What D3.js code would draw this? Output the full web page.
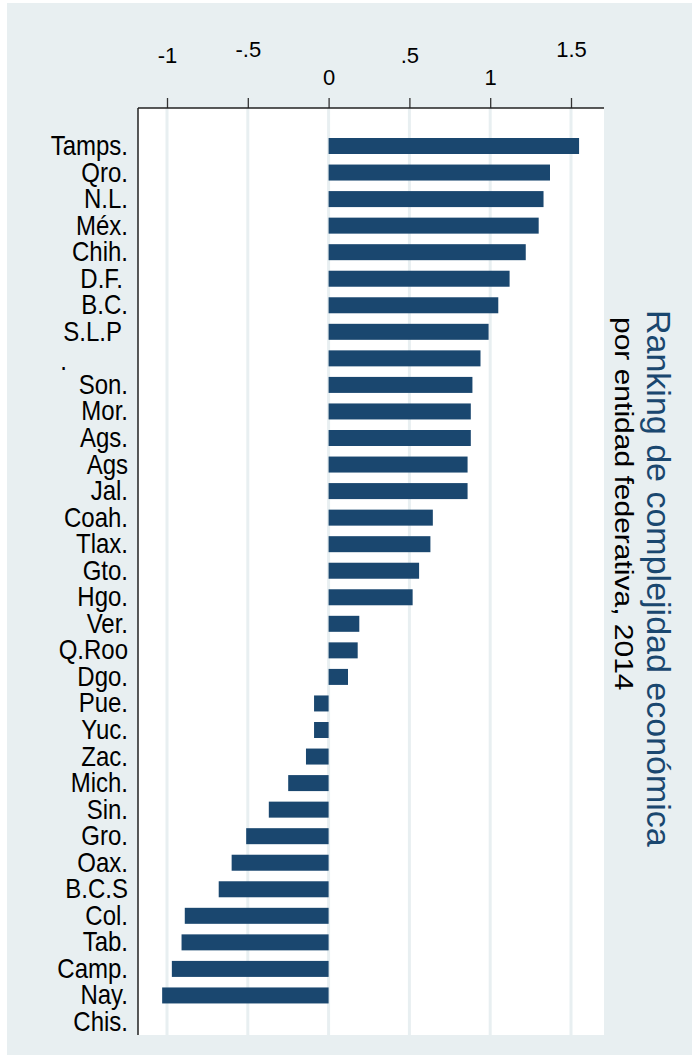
<!DOCTYPE html>
<html>
<head>
<meta charset="utf-8">
<script src="https://cdn.jsdelivr.net/npm/d3@7"></script>
<style>
  body { margin: 0; background: #fff; }
  text { font-family: "Liberation Sans", Arial, sans-serif; }
</style>
</head>
<body>
<script>
// data (ranking order, top to bottom)
var states = ["Tamps.", "Qro.", "N.L.", "Méx.", "Chih.", "D.F.", "B.C.", "S.L.P", ".",
    "Son.", "Mor.", "Ags.", "Ags", "Jal.", "Coah.", "Tlax.", "Gto.", "Hgo.", "Ver.",
    "Q.Roo", "Dgo.", "Pue.", "Yuc.", "Zac.", "Mich.", "Sin.", "Gro.", "Oax.", "B.C.S",
    "Col.", "Tab.", "Camp.", "Nay.", "Chis."];
var values = [1.55, 1.37, 1.33, 1.30, 1.22, 1.12, 1.05, 0.99, 0.94,
    0.89, 0.88, 0.88, 0.86, 0.86, 0.645, 0.63, 0.56, 0.52, 0.19,
    0.18, 0.12, -0.09, -0.09, -0.14, -0.25, -0.37, -0.51, -0.60, -0.68,
    -0.89, -0.91, -0.97, -1.03, null];
var tickValues = [-1, -0.5, 0, 0.5, 1, 1.5];
var tickLabels = ["-1", "-.5", "0", ".5", "1", "1.5"];
var title = "Ranking de complejidad económica";
var subtitle = "por entidad federativa, 2014";

var svgWidth = 692;
var svgHeight = 1058;
var plot = {left: 138, right: 604, top: 108, bottom: 1035};
var navy = "#1a476f";
var bg = "#e8eff1";

// staggered tick labels (baseline offset from axis line)
var tickLabelDy = [-45, -51, -23, -45, -23, -51];

var svg = d3.select("body")
    .append("svg")
    .attr("width", svgWidth)
    .attr("height", svgHeight);

svg.append("rect")
    .attr("x", 7).attr("y", 3)
    .attr("width", svgWidth - 7).attr("height", 1052)
    .attr("fill", bg);

svg.append("rect")
    .attr("x", plot.left).attr("y", plot.top)
    .attr("width", plot.right - plot.left).attr("height", plot.bottom - plot.top)
    .attr("fill", "#fff");

var xScale = d3.scaleLinear()
    .domain([-1, 1.5])
    .range([167, 571]);

var yScale = d3.scalePoint()
    .domain(states)
    .range([146, 1022]);

// gridlines
svg.append("g")
    .selectAll("line")
    .data(tickValues)
    .join("line")
    .attr("x1", d => xScale(d)).attr("x2", d => xScale(d))
    .attr("y1", plot.top).attr("y2", plot.bottom)
    .attr("stroke", bg)
    .attr("stroke-width", 3);

// bars
svg.append("g")
    .selectAll("rect")
    .data(states.map((s, i) => ({state: s, value: values[i]})).filter(d => d.value !== null))
    .join("rect")
    .attr("x", d => xScale(Math.min(0, d.value)))
    .attr("width", d => Math.abs(xScale(d.value) - xScale(0)))
    .attr("y", d => yScale(d.state) - 8)
    .attr("height", 16)
    .attr("fill", navy);

// top axis
var topAxis = d3.axisTop(xScale)
    .tickValues(tickValues)
    .tickFormat((d, i) => tickLabels[i])
    .tickSize(10)
    .tickSizeOuter(0);

var axisG = svg.append("g")
    .attr("transform", `translate(0, ${plot.top})`)
    .call(topAxis);
axisG.select(".domain").remove();
axisG.selectAll(".tick line").attr("stroke", "#333").attr("stroke-width", 1.3);
axisG.selectAll(".tick text")
    .attr("y", (d, i) => tickLabelDy[i])
    .attr("dy", null)
    .attr("fill", "#000")
    .style("font-size", "22px");

svg.append("line")
    .attr("x1", plot.left).attr("x2", plot.right)
    .attr("y1", plot.top).attr("y2", plot.top)
    .attr("stroke", "#222").attr("stroke-width", 1.5);
svg.append("line")
    .attr("x1", plot.left).attr("x2", plot.left)
    .attr("y1", plot.top).attr("y2", plot.bottom)
    .attr("stroke", "#222").attr("stroke-width", 1.5);

// category labels (text looks stretched vertically in the original)
var labelShift = {"D.F.": -5, "S.L.P": -6, ".": -61};
svg.append("g")
    .selectAll("text")
    .data(states)
    .join("text")
    .attr("transform", d => `translate(${128 + (labelShift[d] || 0)}, ${yScale(d) + 9 + (d === "." ? 3 : 0)}) scale(1, 1.17)`)
    .attr("text-anchor", "end")
    .style("font-size", "24px")
    .attr("fill", "#000")
    .text(d => d);

// rotated title + subtitle on the right
svg.append("text")
    .attr("transform", "translate(647, 310) rotate(90)")
    .style("font-size", "34px")
    .attr("fill", navy)
    .text(title);

svg.append("text")
    .attr("transform", "translate(615, 317) rotate(90) scale(1.2, 1)")
    .style("font-size", "25px")
    .attr("fill", "#000")
    .text(subtitle);
</script>
</body>
</html>
